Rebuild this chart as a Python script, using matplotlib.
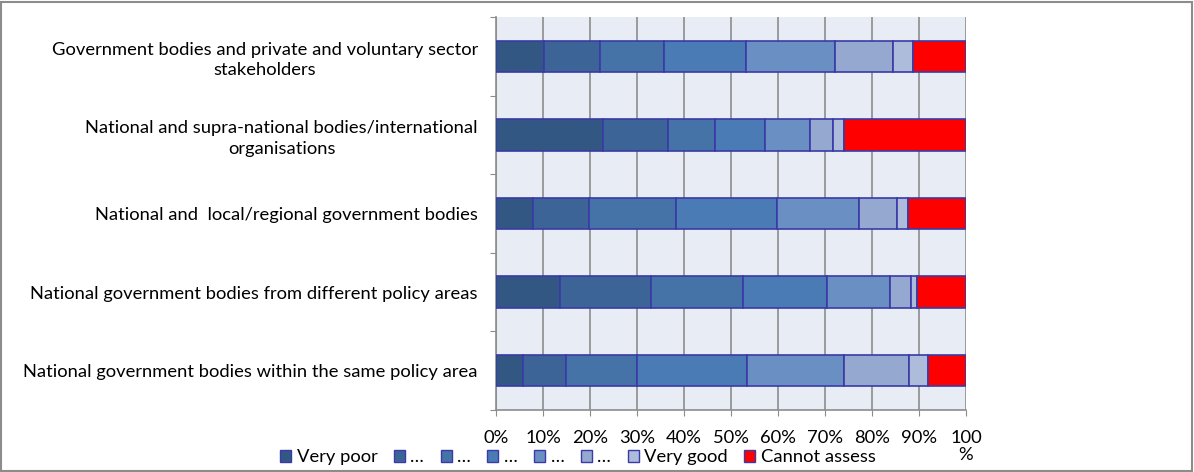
import numpy as np
import matplotlib
matplotlib.use("Agg")
import matplotlib.pyplot as plt
from matplotlib.patches import Rectangle, Patch

plt.rcParams["font.family"] = ["Lato", "DejaVu Sans"]
plt.rcParams["font.size"] = 13.2

categories = [
    "Government bodies and private and voluntary sector\nstakeholders",
    "National and supra-national bodies/international\norganisations",
    "National and  local/regional government bodies",
    "National government bodies from different policy areas",
    "National government bodies within the same policy area",
]
series_names = ["Very poor", "…", "…", "…", "…", "…", "Very good", "Cannot assess"]

# % of respondents, categories top to bottom
very_poor = [10.2, 22.8, 7.9, 13.7, 5.8]
level_2 = [12.0, 13.7, 11.8, 19.3, 9.2]
level_3 = [13.5, 10.1, 18.6, 19.6, 14.9]
level_4 = [17.5, 10.7, 21.5, 17.8, 23.6]
level_5 = [18.9, 9.5, 17.4, 13.4, 20.5]
level_6 = [12.3, 5.0, 8.2, 4.5, 13.9]
very_good = [4.4, 2.2, 2.2, 1.3, 4.1]
cannot_assess = [11.2, 26.0, 12.4, 10.4, 8.0]
series = [very_poor, level_2, level_3, level_4, level_5, level_6, very_good, cannot_assess]

xticks = np.arange(0, 101, 10)
xtick_labels = [f"{v}%" for v in xticks[:-1]] + ["100\n%"]

colors = ["#335783", "#3C6496", "#4573A7", "#4A7BB4", "#6A8FC2", "#94A8D0", "#ACBCDA", "#FF0000"]
edge = "#3A3AA8"

fig = plt.figure(figsize=(11.94, 4.72), dpi=100)
ax = fig.add_axes([0.4154, 0.1314, 0.3936, 0.8326])
ax.set_facecolor("#E8ECF4")

y = np.arange(len(categories))
left = np.zeros(len(categories))
for vals, name, c in zip(series, series_names, colors):
    ax.barh(y, vals, left=left, height=0.4, color=c, edgecolor=edge, linewidth=1.2,
            label=name, zorder=3)
    left += np.array(vals)

ax.set_xlim(0, 100)
ax.set_ylim(len(categories) - 0.5, -0.5)
ax.set_xticks(xticks)
ax.set_xticklabels(xtick_labels, multialignment="center", linespacing=1.1)
ax.xaxis.grid(True, color="#8C8C8C", linewidth=1.2, zorder=0)
ax.set_axisbelow(True)

ax.set_yticks(np.arange(-0.5, len(categories), 1.0))
ax.set_yticklabels([])
ax.set_yticks(y, minor=True)
ax.set_yticklabels(categories, minor=True, multialignment="center", linespacing=1.35)
ax.tick_params(axis="y", which="minor", length=0, pad=13)
ax.tick_params(axis="y", which="major", length=4.5, color="#8C8C8C")
ax.tick_params(axis="x", length=4.5, color="#8C8C8C", pad=10)

for s in ["top", "right"]:
    ax.spines[s].set_visible(False)
for s in ["left", "bottom"]:
    ax.spines[s].set_color("#8C8C8C")
    ax.spines[s].set_linewidth(1.2)

handles = [Patch(facecolor=c, edgecolor=edge, linewidth=1.0) for c in colors]
fig.legend(handles, series_names, loc="center", bbox_to_anchor=(0.484, 0.031), ncol=8,
           frameon=False, handlelength=0.6, handleheight=0.6, handletextpad=0.3,
           columnspacing=0.9, borderaxespad=0)

fig.patches.append(Rectangle((0.001, 0.003), 0.997, 0.993, transform=fig.transFigure,
                             fill=False, edgecolor="#8C8C8C", linewidth=1.5))

fig.savefig("out.png", dpi=100)
